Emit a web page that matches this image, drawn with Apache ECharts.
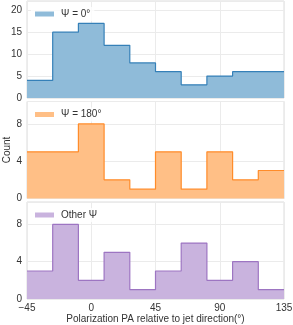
<!DOCTYPE html>
<html><head><meta charset="utf-8">
<script src="https://cdn.jsdelivr.net/npm/echarts@6/dist/echarts.min.js"></script>
<style>html,body{margin:0;padding:0;background:#fff}#c{width:293px;height:325px}</style>
</head><body><div id="c"></div>
<script>
// Bin edges (degrees)
var binEdges = [-45, -27, -9, 9, 27, 45, 63, 81, 99, 117, 135];
// Counts per bin
var counts0 = [4, 15, 17, 12, 8, 6, 3, 5, 6, 6];
var counts180 = [5, 5, 8, 2, 1, 5, 1, 5, 2, 3];
var countsOther = [3, 8, 2, 5, 1, 3, 6, 2, 4, 1];
var seriesNames = ['Ψ = 0°', 'Ψ = 180°', 'Other Ψ'];
var xTicks = [-45, 0, 45, 90, 135];
var yMaxes = [22.1, 10.4, 10.4];
var yIntervals = [5, 4, 4];

var fills = ['#8fbbd9', '#ffbf86', '#c9b3de'];
var edges = ['#3580b8', '#ff8c2a', '#9d75c2'];
var allCounts = [counts0, counts180, countsOther];

function stepData(c) {
  var d = [];
  for (var i = 0; i < c.length; i++) d.push([binEdges[i], c[i]]);
  d.push([binEdges[binEdges.length - 1], c[c.length - 1]]);
  return d;
}

var font = 'Liberation Sans, Arial, sans-serif';
var tops = [1, 101.5, 202];
var H = 97;
var grids = [], xAxes = [], yAxes = [], series = [], legends = [];
for (var k = 0; k < 3; k++) {
  grids.push({left: 27, right: 9, top: tops[k], height: H, show: true, borderColor: '#dcdcdc', borderWidth: 1,
    backgroundColor: '#fff', containLabel: false, outerBoundsMode: 'none'});
  xAxes.push({
    type: 'value', gridIndex: k, min: -45, max: 135, interval: 45,
    axisLine: {show: false}, axisTick: {show: false},
    axisLabel: {show: k === 2, color: '#333', fontSize: 10, fontFamily: font, margin: 4,
      formatter: function (v) { return v < 0 ? '\u2212' + Math.abs(v) : String(v); }},
    splitLine: {show: true, lineStyle: {color: '#ebebeb', width: 1}},
    name: k === 2 ? 'Polarization PA relative to jet direction(°)' : '',
    nameLocation: 'middle', nameGap: 15, nameMoveOverlap: false,
    nameTextStyle: {color: '#333', fontSize: 10, fontFamily: font}
  });
  yAxes.push({
    type: 'value', gridIndex: k, min: 0, max: yMaxes[k], interval: yIntervals[k],
    axisLine: {show: false}, axisTick: {show: false},
    axisLabel: {color: '#333', fontSize: 10, fontFamily: font, margin: 5, showMaxLabel: false},
    splitLine: {show: true, lineStyle: {color: '#ebebeb', width: 1}},
    name: k === 1 ? 'Count' : '', nameLocation: 'middle', nameGap: 15, nameMoveOverlap: false,
    nameTextStyle: {color: '#333', fontSize: 10, fontFamily: font}
  });
  series.push({
    name: seriesNames[k], type: 'line', xAxisIndex: k, yAxisIndex: k,
    step: 'end', symbol: 'none', data: stepData(allCounts[k]),
    lineStyle: {color: edges[k], width: 1.2},
    itemStyle: {color: fills[k]},
    areaStyle: {color: fills[k], opacity: 1},
    silent: true, animation: false
  });
  legends.push({
    data: [{name: seriesNames[k], icon: 'rect', itemStyle: {color: fills[k], borderWidth: 0}}],
    left: 31, top: tops[k] + 6, itemWidth: 19, itemHeight: 5, itemGap: 5,
    padding: [2, 4], backgroundColor: 'rgba(255,255,255,0.8)',
    textStyle: {color: '#333', fontSize: 10, fontFamily: font, padding: [0, 0, 0, 2]}, selectedMode: false
  });
}

var chart = echarts.init(document.getElementById('c'), null, {renderer: 'canvas'});
chart.setOption({
  animation: false, backgroundColor: '#fff',
  grid: grids, xAxis: xAxes, yAxis: yAxes, series: series, legend: legends
});
</script></body></html>
